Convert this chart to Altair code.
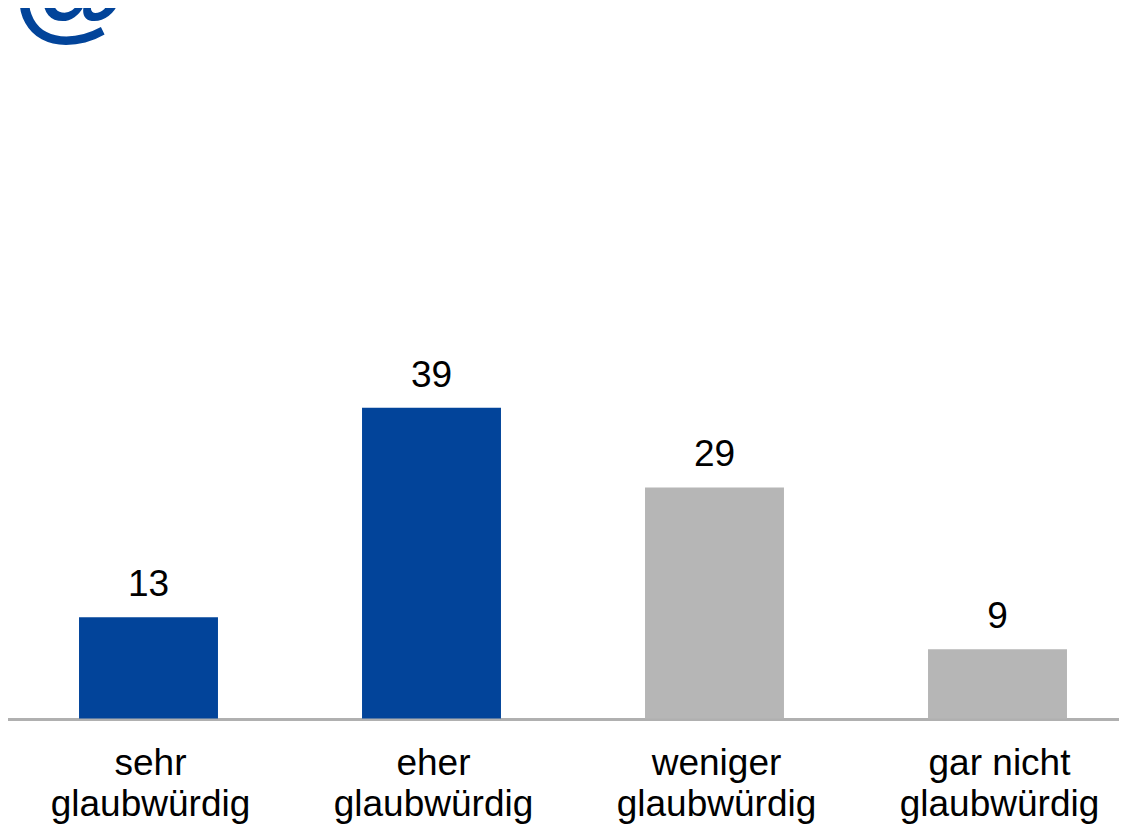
import altair as alt
import pandas as pd

categories = ["sehr\nglaubwürdig", "eher\nglaubwürdig", "weniger\nglaubwürdig", "gar nicht\nglaubwürdig"]
bar_values = [12.7, 39.0, 29.0, 8.7]
labels = ["13", "39", "29", "9"]
colors = ["#02449A", "#02449A", "#B6B6B6", "#B6B6B6"]

df = pd.DataFrame({"cat": categories, "v": bar_values, "label": labels, "color": colors})

x = alt.X("cat:N", sort=categories, title=None,
          scale=alt.Scale(range=[-1, 1131], paddingInner=0.509, paddingOuter=0.2545),
          axis=alt.Axis(labelExpr="split(datum.label, '\\n')", labelAngle=0, labelFont="Liberation Sans",
                        labelFontSize=37, labelColor="#000000", labelLineHeight=41, labelPadding=26,
                        labelOffset=2, labelLimit=0, ticks=False, domainColor="#B0B0B0", domainWidth=3))
y = alt.Y("v:Q", axis=None, scale=alt.Scale(domain=[0, 89], range=[710.5, 1.2], nice=False))

bars = alt.Chart(df).mark_bar(cornerRadius=0).encode(x=x, y=y, color=alt.Color("color:N", scale=None))
text = alt.Chart(df).mark_text(font="Liberation Sans", fontSize=37, color="#000000", dy=-21, baseline="alphabetic").encode(
    x=alt.X("cat:N", sort=categories), y=y, text="label:N")
logo = alt.Chart(pd.DataFrame({"t": ["@"]})).mark_text(
    font="Liberation Sans", fontSize=120, fontWeight="bold", color="#02449A", align="center", baseline="alphabetic"
).encode(x=alt.value(63), y=alt.value(18), text="t:N")

chart = (bars + text + logo).properties(
    width=1111, height=711,
    padding={"left": 0, "top": 0, "right": 0, "bottom": 105},
    autosize=alt.AutoSizeParams(type="none"),
    background="#FFFFFF",
).configure_view(stroke=None)

chart.save("out.html", embed_options={"renderer": "svg", "actions": False})
